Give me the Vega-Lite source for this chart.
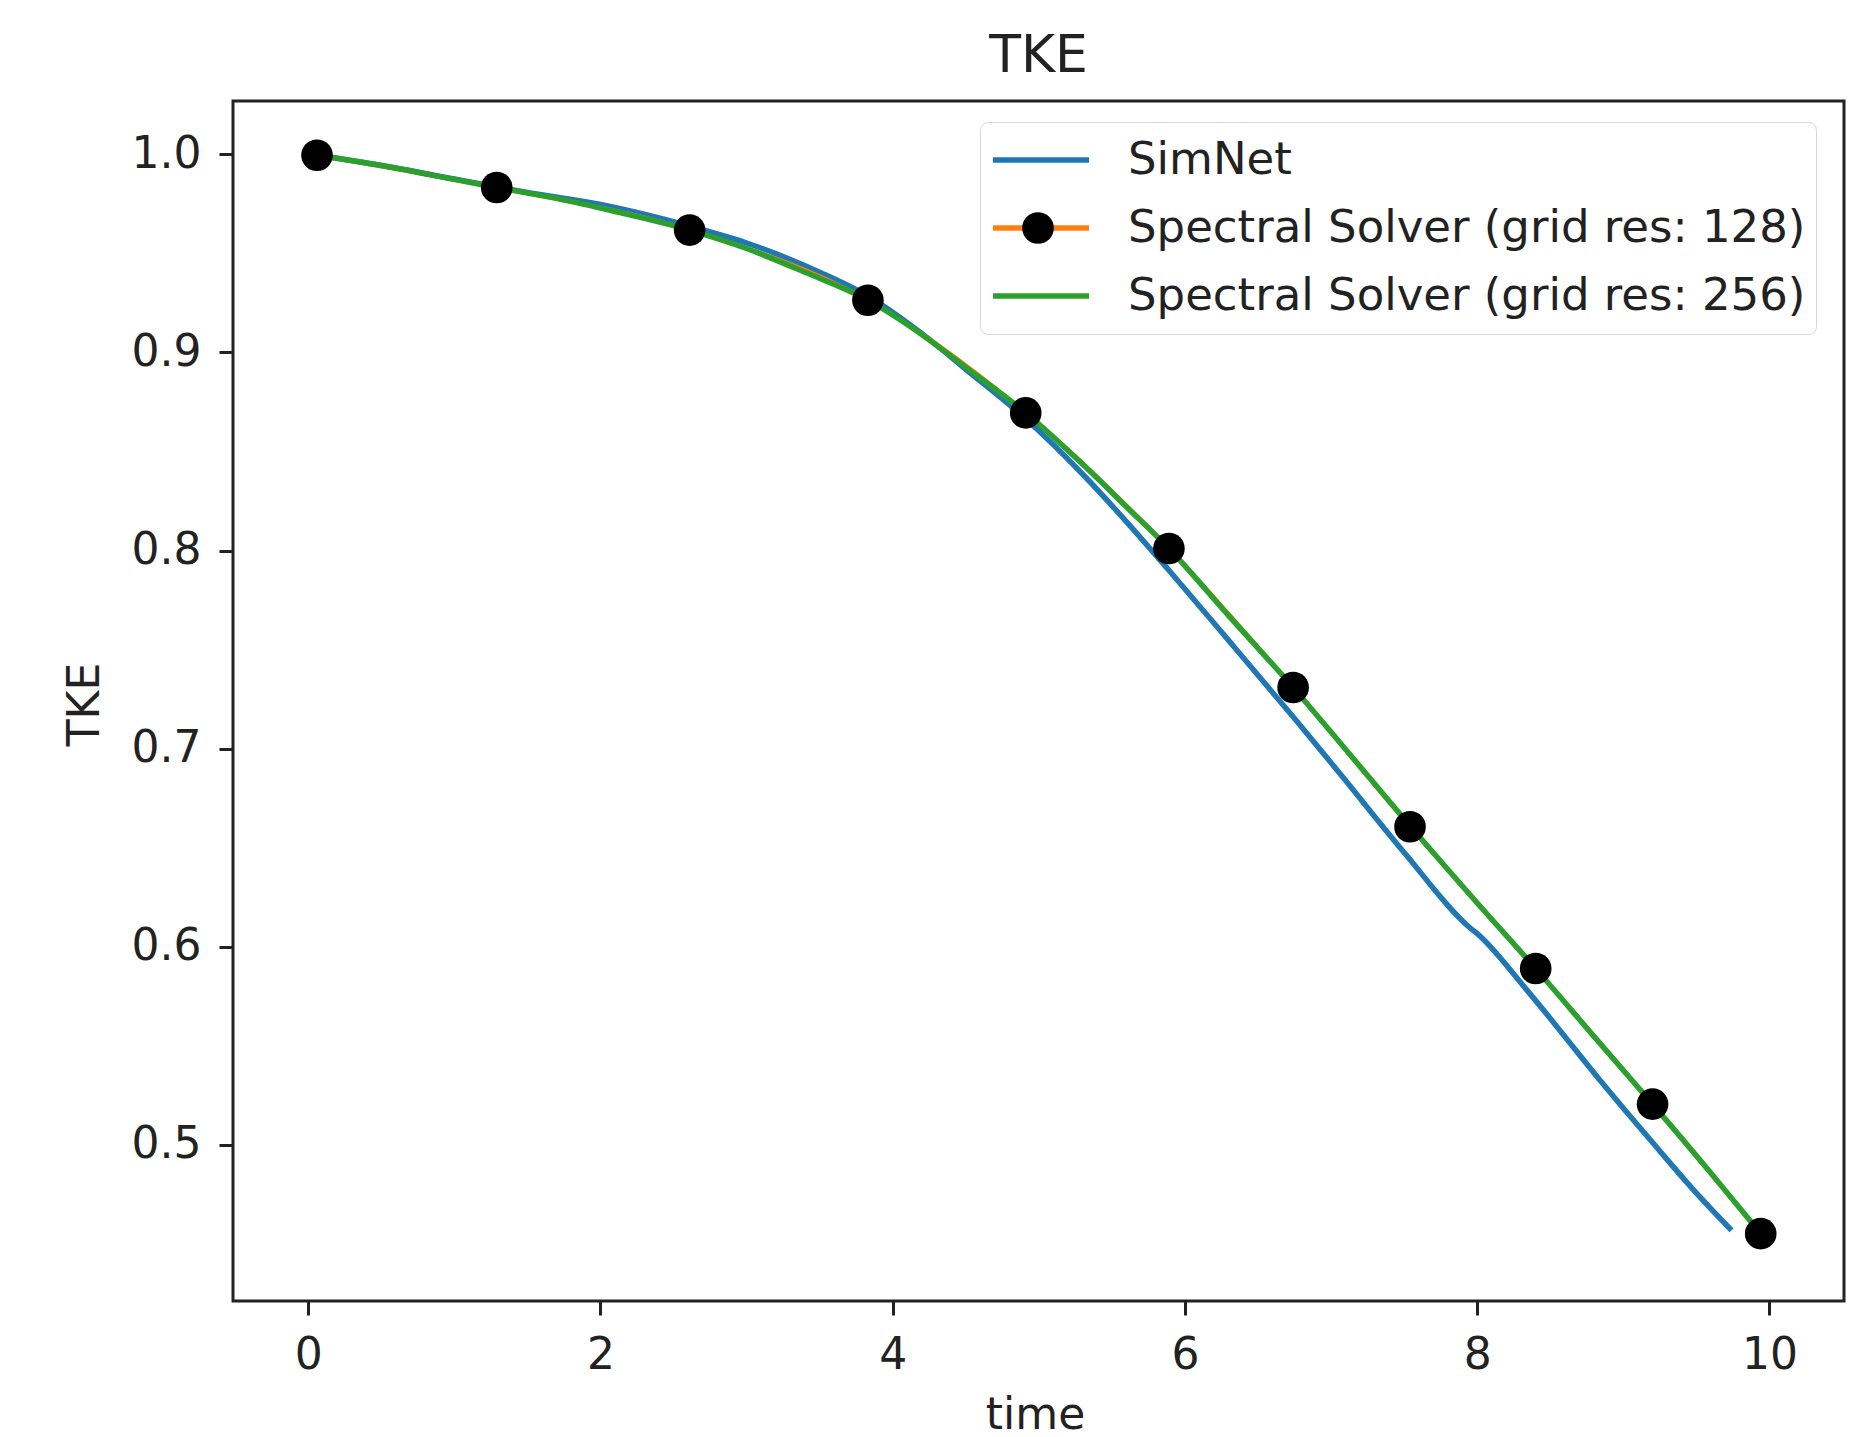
{
  "$schema": "https://vega.github.io/schema/vega-lite/v6.json",
  "width": 1611,
  "height": 1200,
  "autosize": {"type": "none"},
  "padding": {"left": 233, "top": 101, "right": 22, "bottom": 136},
  "background": "white",
  "title": {"text": "TKE", "fontSize": 52, "font": "DejaVu Sans", "fontWeight": "normal", "color": "#222222", "anchor": "middle", "offset": 30, "dy": 53, "baseline": "alphabetic"},
  "config": {
    "view": {"stroke": "#222222", "strokeWidth": 3},
    "axis": {"grid": false, "domain": false, "tickColor": "#222222", "tickWidth": 3, "tickSize": 14, "labelFont": "DejaVu Sans", "labelFontSize": 44, "labelColor": "#222222", "titleFont": "DejaVu Sans", "titleFontSize": 44, "titleFontWeight": "normal", "titleColor": "#222222", "labelFlush": false, "labelOverlap": false}
  },
  "data": {"values": [
    {"series": "SimNet", "t": 0.06, "tke": 0.9996},
    {"series": "SimNet", "t": 0.5, "tke": 0.9944},
    {"series": "SimNet", "t": 1.0, "tke": 0.9876},
    {"series": "SimNet", "t": 1.5, "tke": 0.9808},
    {"series": "SimNet", "t": 2.0, "tke": 0.9747},
    {"series": "SimNet", "t": 2.61, "tke": 0.9638},
    {"series": "SimNet", "t": 3.0, "tke": 0.9553},
    {"series": "SimNet", "t": 3.5, "tke": 0.9405},
    {"series": "SimNet", "t": 3.83, "tke": 0.9285},
    {"series": "SimNet", "t": 4.2, "tke": 0.9095},
    {"series": "SimNet", "t": 4.5, "tke": 0.8915},
    {"series": "SimNet", "t": 4.91, "tke": 0.8665},
    {"series": "SimNet", "t": 5.3, "tke": 0.8385},
    {"series": "SimNet", "t": 5.6, "tke": 0.8145},
    {"series": "SimNet", "t": 5.89, "tke": 0.790},
    {"series": "SimNet", "t": 6.3, "tke": 0.7545},
    {"series": "SimNet", "t": 6.74, "tke": 0.716},
    {"series": "SimNet", "t": 7.06, "tke": 0.6874},
    {"series": "SimNet", "t": 7.5, "tke": 0.6475},
    {"series": "SimNet", "t": 7.95, "tke": 0.6095},
    {"series": "SimNet", "t": 8.0, "tke": 0.6065},
    {"series": "SimNet", "t": 8.34, "tke": 0.578},
    {"series": "SimNet", "t": 8.84, "tke": 0.5325},
    {"series": "SimNet", "t": 9.2, "tke": 0.501},
    {"series": "SimNet", "t": 9.5, "tke": 0.4755},
    {"series": "SimNet", "t": 9.74, "tke": 0.4567},
    {"series": "Spectral Solver (grid res: 128)", "t": 0.06, "tke": 0.9996},
    {"series": "Spectral Solver (grid res: 128)", "t": 1.29, "tke": 0.9833},
    {"series": "Spectral Solver (grid res: 128)", "t": 2.61, "tke": 0.9618},
    {"series": "Spectral Solver (grid res: 128)", "t": 3.83, "tke": 0.9264},
    {"series": "Spectral Solver (grid res: 128)", "t": 4.91, "tke": 0.8695},
    {"series": "Spectral Solver (grid res: 128)", "t": 5.89, "tke": 0.801},
    {"series": "Spectral Solver (grid res: 128)", "t": 6.74, "tke": 0.7308},
    {"series": "Spectral Solver (grid res: 128)", "t": 7.54, "tke": 0.6605},
    {"series": "Spectral Solver (grid res: 128)", "t": 8.4, "tke": 0.5889},
    {"series": "Spectral Solver (grid res: 128)", "t": 9.2, "tke": 0.5204},
    {"series": "Spectral Solver (grid res: 128)", "t": 9.94, "tke": 0.455},
    {"series": "Spectral Solver (grid res: 256)", "t": 0.06, "tke": 0.9996},
    {"series": "Spectral Solver (grid res: 256)", "t": 0.5, "tke": 0.9944},
    {"series": "Spectral Solver (grid res: 256)", "t": 1.0, "tke": 0.9874},
    {"series": "Spectral Solver (grid res: 256)", "t": 1.29, "tke": 0.9833},
    {"series": "Spectral Solver (grid res: 256)", "t": 1.7, "tke": 0.9778},
    {"series": "Spectral Solver (grid res: 256)", "t": 2.1, "tke": 0.9712},
    {"series": "Spectral Solver (grid res: 256)", "t": 2.61, "tke": 0.9618},
    {"series": "Spectral Solver (grid res: 256)", "t": 3.0, "tke": 0.9525},
    {"series": "Spectral Solver (grid res: 256)", "t": 3.4, "tke": 0.9405},
    {"series": "Spectral Solver (grid res: 256)", "t": 3.83, "tke": 0.9264},
    {"series": "Spectral Solver (grid res: 256)", "t": 4.2, "tke": 0.909},
    {"series": "Spectral Solver (grid res: 256)", "t": 4.5, "tke": 0.8925},
    {"series": "Spectral Solver (grid res: 256)", "t": 4.91, "tke": 0.8695},
    {"series": "Spectral Solver (grid res: 256)", "t": 5.3, "tke": 0.8435},
    {"series": "Spectral Solver (grid res: 256)", "t": 5.6, "tke": 0.822},
    {"series": "Spectral Solver (grid res: 256)", "t": 5.89, "tke": 0.801},
    {"series": "Spectral Solver (grid res: 256)", "t": 6.3, "tke": 0.767},
    {"series": "Spectral Solver (grid res: 256)", "t": 6.74, "tke": 0.7308},
    {"series": "Spectral Solver (grid res: 256)", "t": 7.1, "tke": 0.6995},
    {"series": "Spectral Solver (grid res: 256)", "t": 7.54, "tke": 0.661},
    {"series": "Spectral Solver (grid res: 256)", "t": 8.0, "tke": 0.622},
    {"series": "Spectral Solver (grid res: 256)", "t": 8.4, "tke": 0.5889},
    {"series": "Spectral Solver (grid res: 256)", "t": 8.8, "tke": 0.5545},
    {"series": "Spectral Solver (grid res: 256)", "t": 9.2, "tke": 0.5204},
    {"series": "Spectral Solver (grid res: 256)", "t": 9.6, "tke": 0.4855},
    {"series": "Spectral Solver (grid res: 256)", "t": 9.94, "tke": 0.455}
  ]},
  "encoding": {
    "x": {"field": "t", "type": "quantitative", "scale": {"domain": [-0.515, 10.51], "nice": false, "zero": false},
      "axis": {"values": [0, 2, 4, 6, 8, 10], "format": "d", "labelPadding": 18, "title": "time", "titleX": 802, "titleY": 127, "titleBaseline": "alphabetic"}},
    "y": {"field": "tke", "type": "quantitative", "scale": {"domain": [0.421, 1.027], "nice": false, "zero": false},
      "axis": {"values": [0.5, 0.6, 0.7, 0.8, 0.9, 1.0], "format": ".1f", "labelPadding": 18, "title": "TKE", "titleX": -148, "titleY": 603, "titleBaseline": "middle", "titleAlign": "center", "titleAngle": 270}}
  },
  "layer": [
    {
      "transform": [{"filter": "datum.series === 'SimNet'"}],
      "mark": {"type": "line", "strokeWidth": 5.5, "interpolate": "monotone"},
      "encoding": {"color": {"field": "series", "type": "nominal",
        "scale": {"domain": ["SimNet", "Spectral Solver (grid res: 128)", "Spectral Solver (grid res: 256)"], "range": ["#1f77b4", "#ff7f0e", "#2ca02c"]},
        "legend": {"orient": "none", "legendX": 747, "legendY": 21, "title": null, "symbolType": "stroke", "symbolSize": 9216, "symbolStrokeWidth": 5.5, "clipHeight": 56, "rowPadding": 12, "labelOffset": 36, "labelFont": "DejaVu Sans", "labelFontSize": 45, "labelColor": "#222222", "labelLimit": 2000, "padding": 10, "strokeColor": "#d6d6d6", "fillColor": "rgba(255,255,255,0.85)", "cornerRadius": 8}}}
    },
    {
      "transform": [{"filter": "datum.series === 'Spectral Solver (grid res: 128)'"}],
      "mark": {"type": "line", "strokeWidth": 4, "interpolate": "monotone"},
      "encoding": {"color": {"field": "series", "type": "nominal"}}
    },
    {
      "transform": [{"filter": "datum.series === 'Spectral Solver (grid res: 256)'"}],
      "mark": {"type": "line", "strokeWidth": 5.5, "interpolate": "monotone"},
      "encoding": {"color": {"field": "series", "type": "nominal"}}
    },
    {
      "transform": [{"filter": "datum.series === 'Spectral Solver (grid res: 128)'"}],
      "mark": {"type": "point", "filled": true, "shape": "circle", "size": 1000, "opacity": 1, "strokeWidth": 0},
      "encoding": {"fill": {"field": "series", "type": "nominal",
        "scale": {"domain": ["Spectral Solver (grid res: 128)"], "range": ["black"]},
        "legend": {"orient": "none", "legendX": 789, "legendY": 111, "title": null, "symbolType": "circle", "symbolSize": 1000, "symbolStrokeWidth": 0, "symbolOpacity": 1, "labelExpr": "''", "padding": 0, "labelFontSize": 1}}}
    }
  ]
}
